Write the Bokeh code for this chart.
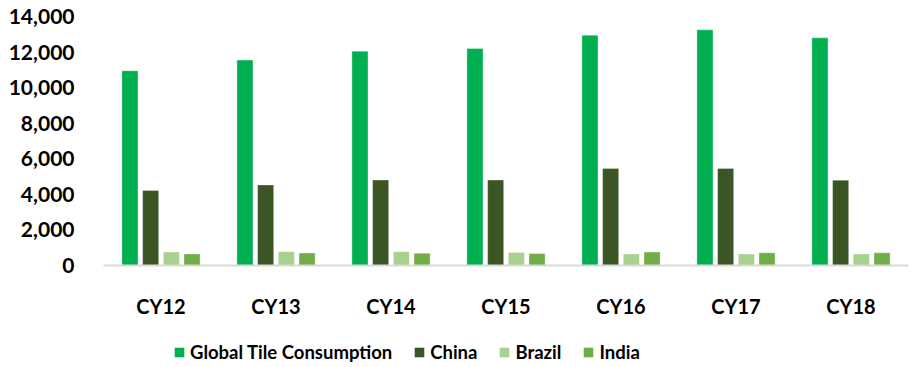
from bokeh.plotting import figure
from bokeh.layouts import column
from bokeh.models import (ColumnDataSource, FactorRange, Range1d, FixedTicker,
                          NumeralTickFormatter, Legend, LegendItem)
from bokeh.transform import dodge
from bokeh.embed import file_html
from bokeh.resources import INLINE

# Tile consumption by calendar year (million sq m)
years = ["CY12", "CY13", "CY14", "CY15", "CY16", "CY17", "CY18"]
global_tile = [10950, 11550, 12050, 12200, 12950, 13250, 12800]
china = [4220, 4530, 4810, 4810, 5450, 5460, 4800]
brazil = [760, 780, 780, 730, 650, 650, 650]
india = [650, 700, 690, 670, 760, 710, 710]

series_names = ["Global Tile Consumption", "China", "Brazil", "India"]
y_ticks = [0, 2000, 4000, 6000, 8000, 10000, 12000, 14000]

source = ColumnDataSource(data=dict(
    years=years, global_tile=global_tile, china=china, brazil=brazil, india=india))

FONT = "Lato"
cols = ["global_tile", "china", "brazil", "india"]
colors = ["#00B050", "#3B5524", "#A9D18E", "#70AD47"]
offsets = [-0.27, -0.09, 0.09, 0.27]

p = figure(
    x_range=FactorRange(*years), y_range=Range1d(0, 14000),
    width=911, height=320, output_backend="svg", toolbar_location=None,
    min_border_left=103, min_border_right=3, min_border_top=16, min_border_bottom=54,
)
p.outline_line_color = None
p.xgrid.grid_line_color = None
p.ygrid.grid_line_color = None
p.border_fill_color = "white"

for col, color, off in zip(cols, colors, offsets):
    p.vbar(x=dodge("years", off, range=p.x_range), top=col, width=0.14,
           source=source, fill_color=color, line_color="white",
           line_alpha=0.35, line_width=1)

# y axis: bold numbers, no line or ticks
p.yaxis.ticker = FixedTicker(ticks=y_ticks)
p.yaxis.formatter = NumeralTickFormatter(format="0,0")
p.yaxis.axis_line_color = None
p.yaxis.major_tick_line_color = None
p.yaxis.minor_tick_line_color = None
p.yaxis.major_label_text_font = FONT
p.yaxis.major_label_text_font_style = "bold"
p.yaxis.major_label_text_font_size = "21px"
p.yaxis.major_label_text_color = "black"
p.yaxis.major_label_standoff = 23

# x axis: light baseline, bold category labels
p.xaxis.axis_line_color = "#D9D9D9"
p.xaxis.axis_line_width = 2
p.xaxis.major_tick_line_color = None
p.xaxis.minor_tick_line_color = None
p.xaxis.major_label_text_font = FONT
p.xaxis.major_label_text_font_style = "bold"
p.xaxis.major_label_text_font_size = "20px"
p.xaxis.major_label_text_color = "black"
p.xaxis.major_label_standoff = 22

# legend strip below the chart (its frame lines up with the chart's frame)
lg = figure(width=911, height=47, output_backend="svg", toolbar_location=None,
            x_range=Range1d(0, 1), y_range=Range1d(0, 1),
            min_border_left=0, min_border_right=0, min_border_top=0, min_border_bottom=0)
lg.axis.visible = False
lg.grid.visible = False
lg.outline_line_color = None
lg.border_fill_color = "white"

# swatch renderers sit outside the strip's visible range; only their legend keys show
swatches = [lg.vbar(x=[-5], top=[-5], bottom=[-6], width=0.1, fill_color=c, line_color=None)
            for c in colors]
legend = Legend(
    items=[LegendItem(label=n, renderers=[r]) for n, r in zip(series_names, swatches)],
    orientation="horizontal", location=(70, 4),
    glyph_width=12, glyph_height=12, label_standoff=5, spacing=21,
    label_text_font=FONT, label_text_font_style="bold", label_text_font_size="18.5px",
    label_text_color="black", border_line_color=None, background_fill_alpha=0,
    padding=0, margin=0,
)
lg.add_layout(legend, "center")

layout = column(p, lg, spacing=0)
open("out.html", "w").write(file_html(layout, INLINE))
